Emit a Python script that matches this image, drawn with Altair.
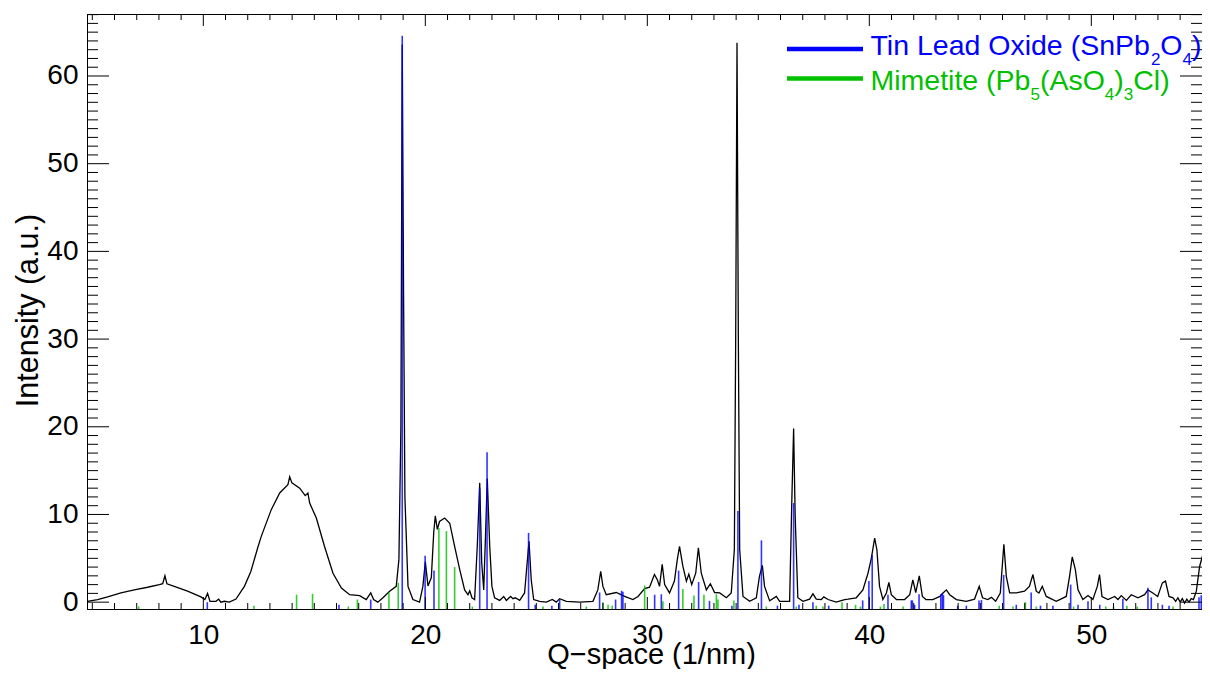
import altair as alt
import pandas as pd

# ---------------- data ----------------
q_vals = [4.77, 5.24, 5.69, 6.29, 6.89, 7.49, 8.02, 8.17, 8.27, 8.36, 8.69, 9.29, 9.89, 10.07, 10.19, 10.3,
          10.57, 10.69, 10.79, 10.95, 11.17, 11.47, 11.85, 12.14, 12.45, 12.61, 13.06, 13.44, 13.81, 13.89,
          13.99, 14.34, 14.59, 14.71, 14.79, 15.09, 15.46, 15.84, 16.22, 16.59, 17.04, 17.34, 17.54, 17.67,
          17.86, 18.09, 18.39, 18.69, 18.81, 18.9, 18.96, 19.02, 19.08, 19.22, 19.44, 19.74, 19.89, 20.0,
          20.12, 20.27, 20.38, 20.45, 20.54, 20.64, 20.87, 21.1, 21.32, 21.55, 21.77, 21.92, 22.0, 22.1,
          22.22, 22.34, 22.45, 22.54, 22.63, 22.72, 22.79, 22.9, 23.0, 23.12, 23.35, 23.53, 23.65, 23.84,
          23.95, 24.05, 24.25, 24.47, 24.67, 24.77, 24.88, 25.15, 25.45, 25.72, 25.9, 26.05, 26.35, 26.95,
          27.55, 27.77, 27.9, 28.0, 28.15, 28.6, 28.98, 29.35, 29.58, 29.88, 30.1, 30.32, 30.45, 30.55,
          30.67, 30.78, 31.0, 31.22, 31.35, 31.45, 31.6, 31.76, 31.87, 32.0, 32.18, 32.3, 32.43, 32.66,
          32.84, 33.03, 33.26, 33.56, 33.78, 33.92, 33.98, 34.04, 34.1, 34.16, 34.31, 34.61, 34.91, 35.05,
          35.18, 35.28, 35.51, 35.81, 35.96, 36.41, 36.51, 36.59, 36.66, 36.78, 37.01, 37.31, 37.46, 37.61,
          37.84, 37.95, 38.14, 38.51, 38.89, 39.04, 39.41, 39.71, 39.94, 40.09, 40.24, 40.34, 40.46, 40.61,
          40.77, 40.88, 40.99, 41.22, 41.59, 41.82, 41.96, 42.09, 42.25, 42.39, 42.55, 42.86, 43.18, 43.32,
          43.47, 43.62, 43.92, 44.37, 44.74, 44.95, 45.1, 45.33, 45.5, 45.69, 45.9, 46.06, 46.17, 46.32,
          46.62, 46.99, 47.21, 47.37, 47.52, 47.64, 47.79, 47.97, 48.42, 48.87, 49.02, 49.14, 49.28, 49.4,
          49.62, 49.85, 50.07, 50.27, 50.37, 50.48, 50.75, 51.05, 51.2, 51.35, 51.58, 51.8, 52.1, 52.4,
          52.55, 52.77, 52.99, 53.2, 53.34, 53.5, 53.68, 53.8, 53.9, 54.0, 54.1, 54.2, 54.3, 54.4, 54.5,
          54.6, 54.73, 54.88, 55.0, 55.1, 55.18, 55.3]
int_vals = [0.1, 0.3, 0.6, 1.05, 1.4, 1.7, 2.0, 2.1, 3.0, 2.1, 1.8, 1.25, 0.6, 0.3, 1.0, 0.1,
            0.1, 0.35, 0.0, 0.1, 0.0, 0.35, 1.8, 3.5, 6.2, 7.5, 10.55, 12.45, 13.4, 14.3,
            13.6, 13.0, 12.15, 12.45, 11.3, 9.6, 6.35, 3.3, 1.6, 0.85, 0.75, 0.3, 1.05, 0.3,
            0.0, 0.5, 1.25, 1.8, 4.85, 20.0, 63.6, 35.0, 12.0, 1.8, 0.3, 0.0, 1.8, 4.6,
            1.85, 2.8, 8.0, 9.85, 8.3, 9.2, 9.6, 9.0, 6.35, 3.7, 1.4, 0.85, 1.3, 0.5,
            0.3, 6.4, 13.6, 4.5, 1.4, 8.3, 14.1, 6.4, 1.8, 0.5, 0.2, 0.65, 0.2, 0.65,
            0.4, 0.5, 0.2, 1.05, 6.95, 2.55, 0.3, 0.1, 0.0, 0.3, 0.0, 0.4, 0.1, 0.0,
            0.1, 1.4, 3.5, 1.8, 0.85, 1.1, 0.65, 0.3, 0.65, 1.55, 1.7, 3.15, 2.55, 1.8,
            4.3, 2.0, 1.05, 2.4, 4.85, 6.35, 4.1, 2.4, 3.2, 2.0, 3.3, 6.2, 3.3, 1.4,
            2.1, 1.1, 1.05, 0.5, 1.05, 6.0, 30.0, 63.8, 30.0, 6.0, 0.65, 0.1, 0.5, 2.95,
            4.2, 1.8, 0.15, 0.65, 0.1, 0.1, 11.7, 19.8, 9.8, 0.5, 0.1, 0.35, 0.95, 0.35,
            0.3, 0.6, 0.3, 0.0, 0.3, 0.35, 0.5, 1.4, 3.3, 5.0, 7.3, 6.0, 1.8, 0.3,
            1.05, 2.25, 0.85, 0.3, 0.3, 0.85, 2.55, 1.1, 3.0, 0.65, 0.3, 0.3, 0.65, 1.05,
            1.4, 0.85, 0.3, 0.1, 0.35, 1.8, 0.5, 0.3, 0.55, 0.1, 1.05, 6.6, 2.95, 1.05,
            1.05, 1.25, 1.8, 3.15, 1.25, 1.05, 1.8, 0.65, 0.1, 0.65, 2.95, 5.15, 3.7, 1.4,
            0.3, 0.75, 0.3, 1.8, 3.15, 0.65, 0.3, 0.65, 0.3, 0.75, 0.2, 0.85, 0.5, 0.85,
            1.4, 1.05, 0.65, 2.2, 2.4, 0.65, 0.5, 0.1, 0.5, 0.0, 0.4, -0.1, 0.35, 0.0, 0.4,
            0.3, 1.25, 4.1, 5.2, 4.65, 4.9, 3.3]

# Tin Lead Oxide (SnPb2O4) reference sticks
blue_q = [10.18, 16.11, 17.54, 18.96, 19.99, 20.39, 22.45, 22.78, 24.65, 24.95, 25.7, 26.05, 27.85, 28.57,
          28.84, 28.9, 30.33, 30.63, 31.41, 32.31, 32.8, 33.81, 34.08, 35.14, 35.86, 36.59, 36.83, 37.46,
          38.17, 39.7, 39.98, 40.13, 40.84, 41.89, 41.94, 42.04, 42.24, 43.22, 43.29, 43.34, 43.98, 44.37,
          44.94, 45.05, 46.05, 46.62, 47.29, 47.71, 48.27, 49.07, 49.4, 49.85, 50.38, 51.42, 52.55, 52.7,
          53.2, 53.5, 54.85, 54.95, 55.05, 55.15, 55.25]
blue_h = [0.0, -0.3, 0.3, 64.6, 5.3, 3.6, 13.0, 17.1, 7.9, -0.3, -0.4, 0.3, 1.1, 0.3,
          1.3, 1.2, 0.85, 0.9, 3.6, 2.3, 0.15, -0.4, 10.4, 7.05, -0.4, 11.3, -0.3, 0.0,
          -0.4, 0.2, 2.4, 5.4, 0.85, 0.2, 0.2, -0.3, 0.9, 0.9, 1.05, 0.8, -0.4, -0.4,
          0.2, 0.25, 3.1, -0.3, 1.1, -0.4, -0.4, 2.0, -0.3, 0.1, -0.3, 0.4, 1.65, 0.55,
          -0.3, -0.4, 0.55, 0.8, 1.1, 1.1, 0.6]

# Mimetite (Pb5(AsO4)3Cl) reference sticks
green_q = [7.09, 12.28, 14.2, 14.92, 16.53, 16.94, 18.36, 18.78, 20.61, 20.95, 21.32, 22.12, 25.3, 27.25,
           28.0, 28.23, 28.42, 29.88, 30.7, 31.6, 32.1, 32.55, 33.11, 33.18, 33.9, 35.36, 36.71, 37.61,
           37.91, 38.77, 39.38, 39.6, 40.5, 40.66, 41.52, 45.85, 46.47, 47.03, 47.52, 49.2, 50.65, 51.0,
           51.6, 52.07, 53.68]
green_h = [-0.5, -0.4, 0.85, 0.95, -0.5, 0.3, 1.1, 2.2, 8.45, 8.1, 4.0, -0.5, -0.5, -0.5,
           0.0, -0.3, -0.4, 1.9, 0.1, 1.5, 0.75, 0.85, 0.9, 0.3, 0.2, -0.5, -0.5, -0.4,
           -0.5, 0.0, -0.3, -0.5, -0.5, -0.2, -0.5, -0.4, -0.5, 0.0, -0.5, -0.5, -0.5, -0.5,
           -0.4, -0.5, -0.5]

x_major = [10, 20, 30, 40, 50]
y_major = [0, 10, 20, 30, 40, 50, 60]
x_minor = [v for v in range(5, 55) if v % 10 != 0]
y_minor = [v for v in range(0, 68) if v % 10 != 0]

legend_labels = ["Tin Lead Oxide (SnPb2O4)", "Mimetite (Pb5(AsO4)3Cl)"]

# ---------------- layout ----------------
PX_PER_Q = 22.2          # horizontal scale of the reference plot
W, H = 1115, 595
X_MIN = 4.76
X_MAX = X_MIN + W / PX_PER_Q
Y_MIN, Y_MAX = -0.78, 67.07
FONT = "Liberation Sans"
BLUE = "#0000FF"
GREEN = "#00C000"

xs = alt.Scale(domain=[X_MIN, X_MAX], nice=False, zero=False)
ys = alt.Scale(domain=[Y_MIN, Y_MAX], nice=False, zero=False)

line_df = pd.DataFrame({"q": q_vals, "I": int_vals})
line = alt.Chart(line_df).mark_line(color="black", strokeWidth=1.3, clip=True).encode(
    x=alt.X("q:Q", scale=xs, axis=alt.Axis(
        values=x_major, format="d", title="Q\u2212space (1/nm)", ticks=False, tickSize=0,
        labelPadding=12, labelFontSize=28, labelFont=FONT, labelColor="black",
        domainColor="black", grid=False, titleFont=FONT, titleFontSize=29, titleFontWeight="normal",
        titleColor="black", titleBaseline="alphabetic", titleY=54, titleX=564, titleAlign="center")),
    y=alt.Y("I:Q", scale=ys, axis=alt.Axis(
        values=y_major, format="d", title="Intensity (a.u.)", ticks=False, tickSize=0,
        labelPadding=9, labelFontSize=28, labelFont=FONT, labelColor="black",
        domainColor="black", grid=False, titleFont=FONT, titleFontSize=30.5, titleFontWeight="normal",
        titleColor="black", titleAngle=270, titleBaseline="alphabetic", titleX=-50, titleY=296,
        titleAlign="center")),
)

def sticks(qs, hs, color):
    df = pd.DataFrame({"q": qs, "I": hs, "I0": [Y_MIN] * len(qs)})
    return alt.Chart(df).mark_rule(color=color, strokeWidth=1.6, opacity=0.8, clip=True).encode(
        x="q:Q", y="I:Q", y2="I0:Q")

blue_st = sticks(blue_q, blue_h, BLUE)
green_st = sticks(green_q, green_h, GREEN)

def xticks(vals, y1, y2):
    return alt.Chart(pd.DataFrame({"q": vals})).mark_rule(color="black", strokeWidth=1).encode(
        x="q:Q", y=alt.value(y1), y2=alt.value(y2))

def yticks(vals, x1, x2):
    return alt.Chart(pd.DataFrame({"I": vals})).mark_rule(color="black", strokeWidth=1).encode(
        y="I:Q", x=alt.value(x1), x2=alt.value(x2))

tick_layers = [
    xticks(x_major, H, H - 12), xticks(x_minor, H, H - 6),
    xticks(x_major, 0, 12), xticks(x_minor, 0, 6),
    yticks(y_major, 0, 22), yticks(y_minor, 0, 11),
    yticks(y_major, W, W - 22), yticks(y_minor, W, W - 11),
]

# legend
AW = {' ': 278, '(': 333, ')': 333, 'T': 611, 'i': 222, 'n': 556, 'L': 556, 'e': 556, 'a': 556,
      'd': 556, 'O': 778, 'x': 500, 'S': 667, 'P': 667, 'b': 556, 'M': 833, 'm': 833, 't': 278,
      'A': 667, 's': 500, 'C': 722, 'l': 222}

def tw(s, size):
    return sum(AW.get(c, 556) for c in s) * size / 1000.0

def split_formula(label):
    segs = []
    for ch in label:
        sub = ch.isdigit()
        if segs and segs[-1][1] == sub:
            segs[-1][0] += ch
        else:
            segs.append([ch, sub])
    return segs

one = pd.DataFrame({"d": [0]})
legend_layers = []
MAIN, SUB = 28.5, 17
for label, color, ly, base in [(legend_labels[0], BLUE, 35, 41), (legend_labels[1], GREEN, 64.5, 76)]:
    legend_layers.append(alt.Chart(one).mark_rule(color=color, strokeWidth=4.3).encode(
        x=alt.value(700), x2=alt.value(776), y=alt.value(ly)))
    x = 783.5
    for text, sub in split_formula(label):
        size = SUB if sub else MAIN
        yy = base + 10 if sub else base
        legend_layers.append(alt.Chart(one).mark_text(
            align="left", baseline="alphabetic", font=FONT, fontSize=size, color=color).encode(
            x=alt.value(x), y=alt.value(yy), text=alt.value(text)))
        x += tw(text, size)

chart = alt.layer(line, green_st, blue_st, *tick_layers, *legend_layers).properties(
    width=W, height=H,
    padding={"left": 79, "top": 6, "right": 0, "bottom": 60},
    autosize=alt.AutoSizeParams(type="none"),
    background="white",
).configure_view(stroke="black", strokeWidth=1)

chart.save("out.html", embed_options={"renderer": "svg", "actions": False})
